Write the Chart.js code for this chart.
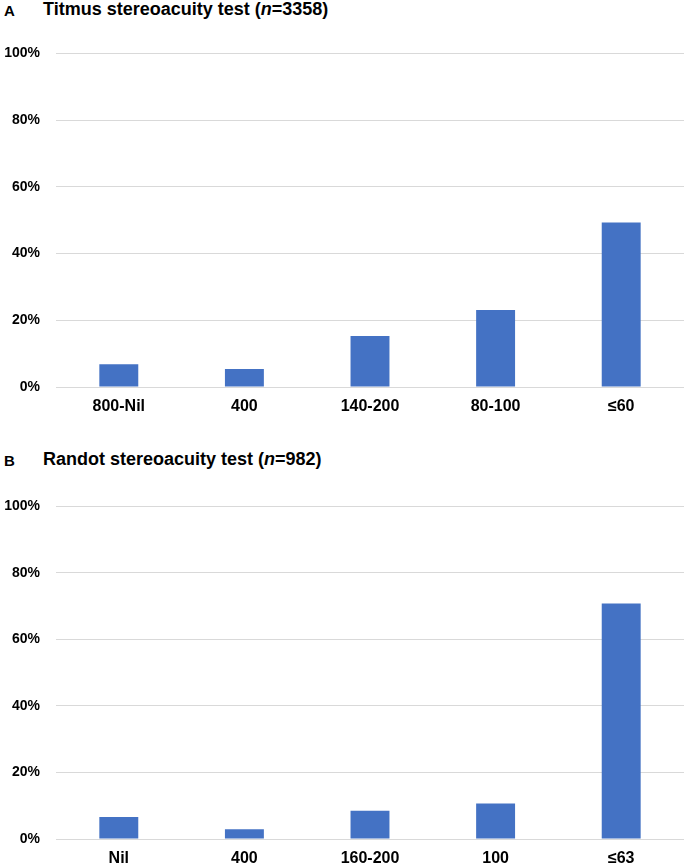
<!DOCTYPE html>
<html>
<head>
<meta charset="utf-8">
<script src="https://cdn.jsdelivr.net/npm/chart.js@4.4.1/dist/chart.umd.min.js"></script>
<style>
  html, body { margin: 0; padding: 0; background: #fff; }
  body { width: 685px; height: 867px; position: relative; overflow: hidden; font-family: "Liberation Sans", Arial, sans-serif; }
  .panel-letter { position: absolute; font-weight: bold; font-size: 15px; color: #000; line-height: 1; }
  .panel-title { position: absolute; font-weight: bold; font-size: 18px; color: #000; line-height: 1; white-space: nowrap; }
  .wrap { position: absolute; left: 0; width: 685px; }
  canvas { display: block; }
</style>
</head>
<body>
<div class="wrap" style="top:29px; height:396px;"><canvas id="chartA" width="685" height="396"></canvas></div>
<div class="wrap" style="top:482px; height:385px;"><canvas id="chartB" width="685" height="385"></canvas></div>

<div class="panel-letter" style="left:4px; top:3px;">A</div>
<div class="panel-title" style="left:43px; top:0px;">Titmus stereoacuity test (<i>n</i>=3358)</div>
<div class="panel-letter" style="left:4px; top:453px;">B</div>
<div class="panel-title" style="left:43px; top:450px;">Randot stereoacuity test (<i>n</i>=982)</div>

<script>
// ---- Data ----
const titmusCategories = ['800-Nil', '400', '140-200', '80-100', '\u226460'];
const titmusValues = [6.8, 5.4, 15.3, 23.1, 49.3];

const randotCategories = ['Nil', '400', '160-200', '100', '\u226463'];
const randotValues = [6.6, 2.9, 8.5, 10.7, 70.8];

const yTickValues = [0, 20, 40, 60, 80, 100];
const yTickSuffix = '%';

// ---- Chart builder ----
const FONT = '"Liberation Sans", Arial, sans-serif';
const BAR_COLOR = '#4472C4';
const GRID_COLOR = '#d9d9d9';

function makeChart(id, labels, values, xAxisHeight) {
  return new Chart(document.getElementById(id), {
    type: 'bar',
    data: {
      labels: labels,
      datasets: [{
        data: values,
        backgroundColor: BAR_COLOR,
        borderWidth: 0,
        barPercentage: 0.31,
        categoryPercentage: 1.0
      }]
    },
    options: {
      responsive: false,
      animation: false,
      events: [],
      layout: { padding: { top: 2, right: 1, left: 0, bottom: 0 } },
      plugins: { legend: { display: false }, tooltip: { enabled: false }, title: { display: false } },
      scales: {
        x: {
          grid: { display: false, drawTicks: false },
          border: { display: false },
          ticks: {
            color: '#000',
            font: { family: FONT, size: 16, weight: 'bold' },
            padding: 10,
            maxRotation: 0,
            autoSkip: false
          },
          afterFit: function (scale) { scale.height = xAxisHeight; }
        },
        y: {
          min: 0,
          max: 100,
          grid: { color: GRID_COLOR, lineWidth: 1, drawTicks: false },
          border: { display: false },
          afterBuildTicks: function (scale) {
            scale.ticks = yTickValues.map(v => ({ value: v }));
          },
          ticks: {
            color: '#000',
            font: { family: FONT, size: 14, weight: 'bold' },
            padding: 16,
            callback: function (v) { return v + yTickSuffix; }
          },
          afterFit: function (scale) { scale.width = 56; }
        }
      }
    }
  });
}

makeChart('chartA', titmusCategories, titmusValues, 38);
makeChart('chartB', randotCategories, randotValues, 28);
</script>
</body>
</html>
